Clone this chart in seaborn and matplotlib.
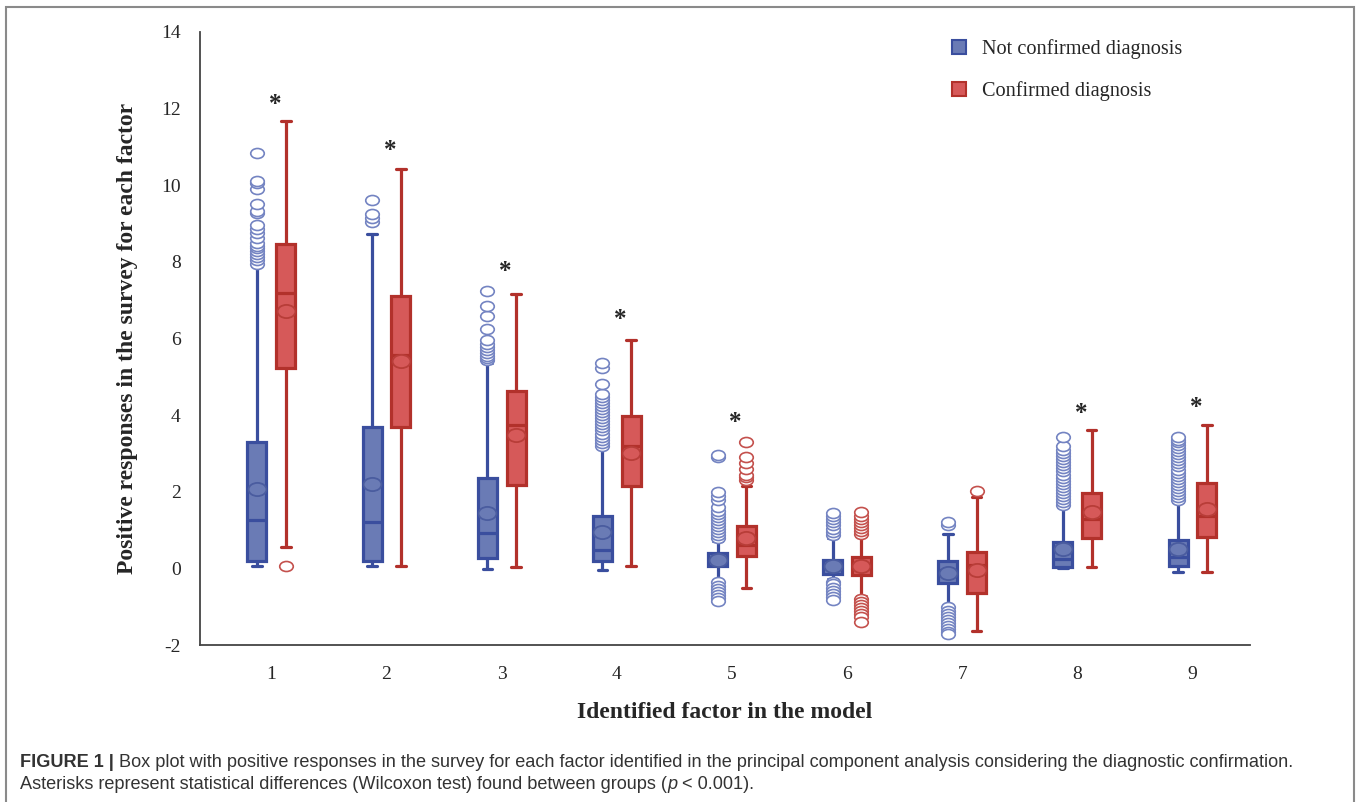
import numpy as np
import pandas as pd
import matplotlib
matplotlib.use("Agg")
import matplotlib.pyplot as plt
import seaborn as sns
from matplotlib.path import Path
from matplotlib.transforms import Affine2D
from matplotlib.lines import Line2D
from matplotlib.patches import Rectangle
from matplotlib import font_manager

# factors of the model and the two groups
factors = ["1", "2", "3", "4", "5", "6", "7", "8", "9"]
groups = ["Not confirmed diagnosis", "Confirmed diagnosis"]

# box summary values (not confirmed = blue)
blue_lo = [0.05, 0.05, -0.02, -0.05, -0.30, -0.28, -0.98, 0.00, -0.10]
blue_q1 = [0.18, 0.18, 0.27, 0.18, 0.05, -0.15, -0.37, 0.03, 0.05]
blue_med = [1.25, 1.20, 0.92, 0.47, 0.20, 0.05, -0.05, 0.25, 0.30]
blue_q3 = [3.31, 3.70, 2.35, 1.38, 0.39, 0.23, 0.18, 0.70, 0.75]
blue_hi = [7.90, 8.73, 5.37, 3.15, 0.72, 0.80, 0.90, 1.60, 1.72]
blue_mean = [2.08, 2.19, 1.45, 0.94, 0.22, 0.07, -0.12, 0.50, 0.50]

# confirmed = red
red_lo = [0.55, 0.05, 0.03, 0.05, -0.52, -0.73, -1.64, 0.03, -0.10]
red_q1 = [5.22, 3.68, 2.17, 2.14, 0.31, -0.18, -0.63, 0.78, 0.83]
red_med = [7.20, 5.58, 3.73, 3.20, 0.60, 0.05, 0.10, 1.30, 1.36]
red_q3 = [8.47, 7.12, 4.63, 3.97, 1.10, 0.30, 0.42, 1.98, 2.24]
red_hi = [11.68, 10.43, 7.17, 5.95, 2.15, 0.84, 1.85, 3.62, 3.75]
red_mean = [6.73, 5.40, 3.47, 3.02, 0.78, 0.05, -0.05, 1.48, 1.54]

# outliers
blue_fliers = [
    [7.95, 8.05, 8.12, 8.20, 8.28, 8.35, 8.42, 8.50, 8.62, 8.75, 8.85, 8.95, 9.28, 9.32, 9.50, 9.90, 10.05, 10.10, 10.83],
    [9.05, 9.15, 9.25, 9.62],
    [5.45, 5.50, 5.55, 5.62, 5.70, 5.78, 5.85, 5.95, 6.26, 6.58, 6.84, 7.23],
    [3.20, 3.28, 3.36, 3.44, 3.52, 3.60, 3.68, 3.76, 3.84, 3.92, 4.00, 4.08, 4.16, 4.24, 4.32, 4.40, 4.48, 4.56, 4.80, 5.22, 5.35],
    [0.78, 0.86, 0.94, 1.02, 1.10, 1.18, 1.26, 1.34, 1.42, 1.50, 1.60, 1.78, 1.90, 2.00, 2.90, 2.95,
     -0.35, -0.45, -0.55, -0.62, -0.70, -0.78, -0.85],
    [0.88, 0.96, 1.04, 1.12, 1.20, 1.28, 1.36, 1.44, -0.35, -0.42, -0.50, -0.58, -0.66, -0.74, -0.82],
    [1.12, 1.22, -1.02, -1.10, -1.18, -1.26, -1.34, -1.42, -1.50, -1.58, -1.66, -1.72],
    [1.65, 1.73, 1.81, 1.89, 1.97, 2.05, 2.13, 2.21, 2.29, 2.37, 2.45, 2.53, 2.61, 2.69, 2.77, 2.85, 2.93, 3.01, 3.10, 3.20, 3.44],
    [1.78, 1.86, 1.94, 2.02, 2.10, 2.18, 2.26, 2.34, 2.42, 2.50, 2.58, 2.66, 2.74, 2.82, 2.90, 2.98, 3.06, 3.14, 3.22, 3.30, 3.36, 3.42],
]
red_fliers = [
    [0.05],
    [],
    [],
    [],
    [2.30, 2.38, 2.45, 2.60, 2.75, 2.90, 3.30],
    [0.90, 0.98, 1.06, 1.14, 1.22, 1.30, 1.38, 1.48, -0.80, -0.88, -0.96, -1.04, -1.12, -1.20, -1.28, -1.40],
    [2.02],
    [],
    [],
]

# significance asterisks (None = no difference)
star_y = [12.1, 10.9, 7.75, 6.5, 3.8, None, None, 4.05, 4.2]

fills = {"Not confirmed diagnosis": "#6a7bb5", "Confirmed diagnosis": "#d65959"}
edges = {"Not confirmed diagnosis": "#3a4e9e", "Confirmed diagnosis": "#b2312b"}
flier_edges = {"Not confirmed diagnosis": "#7484c2", "Confirmed diagnosis": "#c4514d"}
mean_edges = {"Not confirmed diagnosis": "#4a5c9f", "Confirmed diagnosis": "#b83d38"}

sns.set_style("white")
plt.rcParams["font.family"] = ["Liberation Serif", "DejaVu Serif"]
plt.rcParams["axes.unicode_minus"] = False

# long table: each box is given by its five summary values
rows = []
for g, lo, q1, md, q3, hi in [(groups[0], blue_lo, blue_q1, blue_med, blue_q3, blue_hi),
                              (groups[1], red_lo, red_q1, red_med, red_q3, red_hi)]:
    for i, f in enumerate(factors):
        for v in (lo[i], q1[i], md[i], q3[i], hi[i]):
            rows.append({"factor": f, "group": g, "value": v})
df = pd.DataFrame(rows)

W = 1360
H = 802
fig = plt.figure(figsize=(W / 100, H / 100), dpi=100)
ax = fig.add_axes([200 / W, 1 - 645 / H, 1050 / W, 613 / H])

box_width = 0.5
for g in groups:
    sns.boxplot(data=df[df["group"] == g], x="factor", y="value", hue="group",
                order=factors, hue_order=groups, palette=fills, linecolor=edges[g],
                dodge=True, width=box_width, gap=0.34, whis=(0, 100), showfliers=False,
                saturation=1, linewidth=2.3, legend=False, ax=ax)

# means and outliers at the dodged positions
oval = Path.unit_circle().transformed(Affine2D().scale(1.0, 0.74))
offsets = {groups[0]: -box_width / 4, groups[1]: box_width / 4}
for g, means, fl in [(groups[0], blue_mean, blue_fliers), (groups[1], red_mean, red_fliers)]:
    xs = np.arange(len(factors)) + offsets[g]
    ax.scatter(xs, means, marker=oval, s=165, facecolor=fills[g], edgecolor=mean_edges[g],
               linewidth=1.3, zorder=4)
    for i, vals in enumerate(fl):
        if vals:
            ax.scatter([xs[i]] * len(vals), vals, marker=oval, s=95, facecolor="white",
                       edgecolor=flier_edges[g], linewidth=1.2, zorder=3)

for i, sy in enumerate(star_y):
    if sy is not None:
        ax.text(i + 0.03, sy, "*", ha="center", va="center", fontsize=18, fontweight="bold")

ax.set_xlim(-0.62, 8.5)
ax.set_ylim(-2, 14)
ax.set_yticks(np.arange(-2, 15, 2))
ax.set_xticks(range(len(factors)))
ax.set_xticklabels(factors)
ax.set_xticks(np.arange(0.5, 9, 1), minor=True)
ax.tick_params(axis="x", which="major", length=0, pad=15, labelsize=14)
ax.tick_params(axis="x", which="minor", length=7, width=1.2, color="#444444", direction="out")
ax.tick_params(axis="y", length=7, width=1.2, color="#444444", direction="out", pad=7, labelsize=14)
for s in ["top", "right"]:
    ax.spines[s].set_visible(False)
for s in ["left", "bottom"]:
    ax.spines[s].set_color("#444444")
    ax.spines[s].set_linewidth(1.3)

ax.set_xlabel("Identified factor in the model", fontsize=17, fontweight="bold")
ax.set_ylabel("Positive responses in the survey for each factor", fontsize=17, fontweight="bold")
ax.xaxis.set_label_coords(0.5, -0.11)
ax.yaxis.set_label_coords(-0.069, 0.5)
ax.xaxis.label.set_va("center")
ax.yaxis.label.set_va("center")

handles = [Line2D([], [], marker="s", linestyle="none", markersize=10, markerfacecolor=fills[g],
                  markeredgecolor=edges[g], markeredgewidth=1.5) for g in groups]
fig.legend(handles, groups, loc="upper left", bbox_to_anchor=(941 / W, 1 - 31 / H), frameon=False,
           fontsize=14.6, labelspacing=1.1, handletextpad=0.6, handlelength=1.0, borderaxespad=0)

# figure frame
fig.patches.append(Rectangle((6 / W, -0.02), 1 - 12 / W, 1.02 - 7 / H, transform=fig.transFigure,
                             fill=False, edgecolor="#8a8a8a", linewidth=1.5))

# caption
names = {f.name for f in font_manager.fontManager.ttflist}
cap_font = "Liberation Sans Narrow" if "Liberation Sans Narrow" in names else "Liberation Sans"
renderer = fig.canvas.get_renderer()
line1 = [("FIGURE 1 | ", "bold", "normal"),
         ("Box plot with positive responses in the survey for each factor identified in the principal "
          "component analysis considering the diagnostic confirmation.", "normal", "normal")]
line2 = [("Asterisks represent statistical differences (Wilcoxon test) found between groups (", "normal", "normal"),
         ("p", "normal", "italic"), (" < 0.001).", "normal", "normal")]

probe = fig.text(0, 0, line1[0][0] + line1[1][0], fontsize=10, family=cap_font)
cap_size = 10 * 1277 / probe.get_window_extent(renderer).width
probe.remove()


def put_line(segs, x0, y0):
    x = x0
    for txt, wt, st in segs:
        t = fig.text(x / W, 1 - y0 / H, txt, fontsize=cap_size, family=cap_font, fontweight=wt,
                     fontstyle=st, color="#333333", va="baseline", ha="left")
        x += t.get_window_extent(renderer).width


put_line(line1, 20, 767)
put_line(line2, 20, 789)

fig.savefig("out.png", dpi=100)
